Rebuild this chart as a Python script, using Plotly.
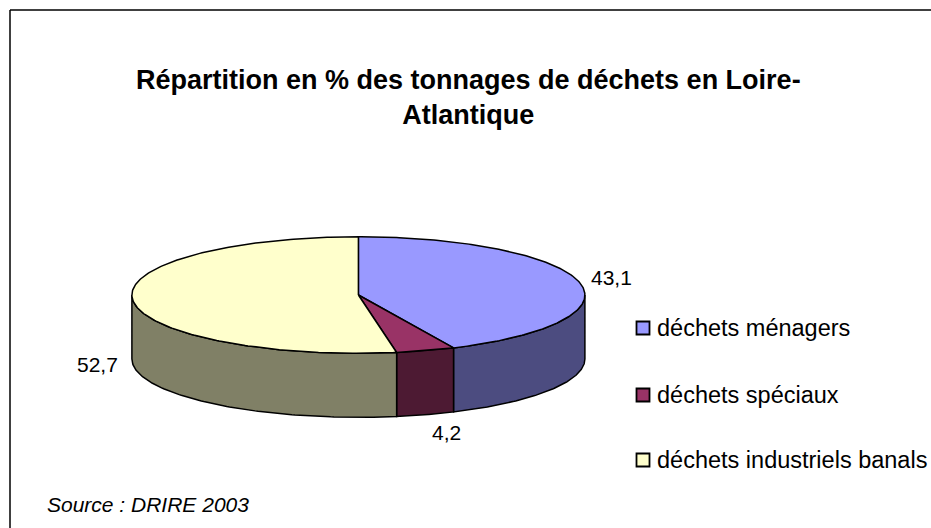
import numpy as np
import plotly.graph_objects as go

# ---- data ----
categories = ["déchets ménagers", "déchets spéciaux", "déchets industriels banals"]
values = [43.1, 4.2, 52.7]
value_labels = ["43,1", "4,2", "52,7"]
top_colors = ["#9999FF", "#993366", "#FFFFCC"]
side_colors = ["#4C4C80", "#4D1A33", "#808066"]
title_text = "Répartition en % des tonnages de déchets en Loire-<br>Atlantique"
source_text = "Source : DRIRE 2003"

W, H = 931, 528
# pie geometry (pixel space)
cx, cy, rx, ry, depth = 358.4, 295.0, 226.5, 58.3, 64.0

def ell(theta_deg, dy=0.0):
    t = np.radians(theta_deg)
    return cx + rx * np.sin(t), cy - ry * np.cos(t) + dy

fig = go.Figure()

total = sum(values)
starts = np.cumsum([0] + values[:-1]) / total * 360.0
ends = np.cumsum(values) / total * 360.0

# side faces (visible front half: 90..270 deg clockwise from top)
for i in range(len(values)):
    a, b = max(starts[i], 90.0), min(ends[i], 270.0)
    if b <= a:
        continue
    th = np.linspace(a, b, 120)
    xt, yt = ell(th)
    xb, yb = ell(th[::-1], depth)
    xs = np.concatenate([xt, xb, xt[:1]])
    ys = np.concatenate([yt, yb, yt[:1]])
    fig.add_trace(go.Scatter(x=xs, y=ys, mode="lines", fill="toself",
                             fillcolor=side_colors[i],
                             line=dict(color="black", width=1.5),
                             hoverinfo="skip", showlegend=False))

# top faces
for i in range(len(values)):
    th = np.linspace(starts[i], ends[i], 240)
    xa, ya = ell(th)
    xs = np.concatenate([[cx], xa, [cx]])
    ys = np.concatenate([[cy], ya, [cy]])
    fig.add_trace(go.Scatter(x=xs, y=ys, mode="lines", fill="toself",
                             fillcolor=top_colors[i],
                             line=dict(color="black", width=1.5),
                             name=categories[i], hoverinfo="name",
                             showlegend=False))

# data labels
label_pos = [(611, 277), (446, 432), (97, 364)]
for lab, (lx, ly) in zip(value_labels, label_pos):
    fig.add_annotation(x=lx, y=ly, text=lab, showarrow=False,
                       xanchor="center", yanchor="middle",
                       font=dict(family="Liberation Sans, Arial", size=21, color="black"))

# legend (manual)
leg_y = [328, 395, 460]
fig.add_trace(go.Scatter(x=[643] * 3, y=leg_y, mode="markers",
                         marker=dict(symbol="square", size=13, color=top_colors,
                                     line=dict(color="black", width=1.8)),
                         hoverinfo="skip", showlegend=False))
for cat, ly in zip(categories, leg_y):
    fig.add_annotation(x=655, y=ly, text=cat, showarrow=False,
                       xanchor="left", yanchor="middle",
                       font=dict(family="Liberation Sans, Arial", size=23.5, color="black"))

# title
fig.add_annotation(x=468, y=97, text="<b>" + title_text + "</b>", showarrow=False,
                   xanchor="center", yanchor="middle", align="center",
                   font=dict(family="Liberation Sans, Arial", size=27, color="black"))

# source
fig.add_annotation(x=45, y=504, text="<i>" + source_text + "</i>", showarrow=False,
                   xanchor="left", yanchor="middle",
                   font=dict(family="Liberation Sans, Arial", size=21, color="black"))

# chart area border (top and left visible)
fig.add_shape(type="line", x0=10, y0=10, x1=W, y1=10, line=dict(color="black", width=1.5))
fig.add_shape(type="line", x0=10, y0=10, x1=10, y1=H, line=dict(color="black", width=1.5))

fig.update_layout(
    width=W, height=H,
    margin=dict(l=0, r=0, t=0, b=0),
    paper_bgcolor="white", plot_bgcolor="white",
    xaxis=dict(range=[0, W], visible=False, fixedrange=True),
    yaxis=dict(range=[H, 0], visible=False, fixedrange=True),
    showlegend=False,
)

fig.write_html("out.html", config={"displayModeBar": False},
               post_script="document.body.style.margin='0px';document.body.style.overflow='hidden';")
